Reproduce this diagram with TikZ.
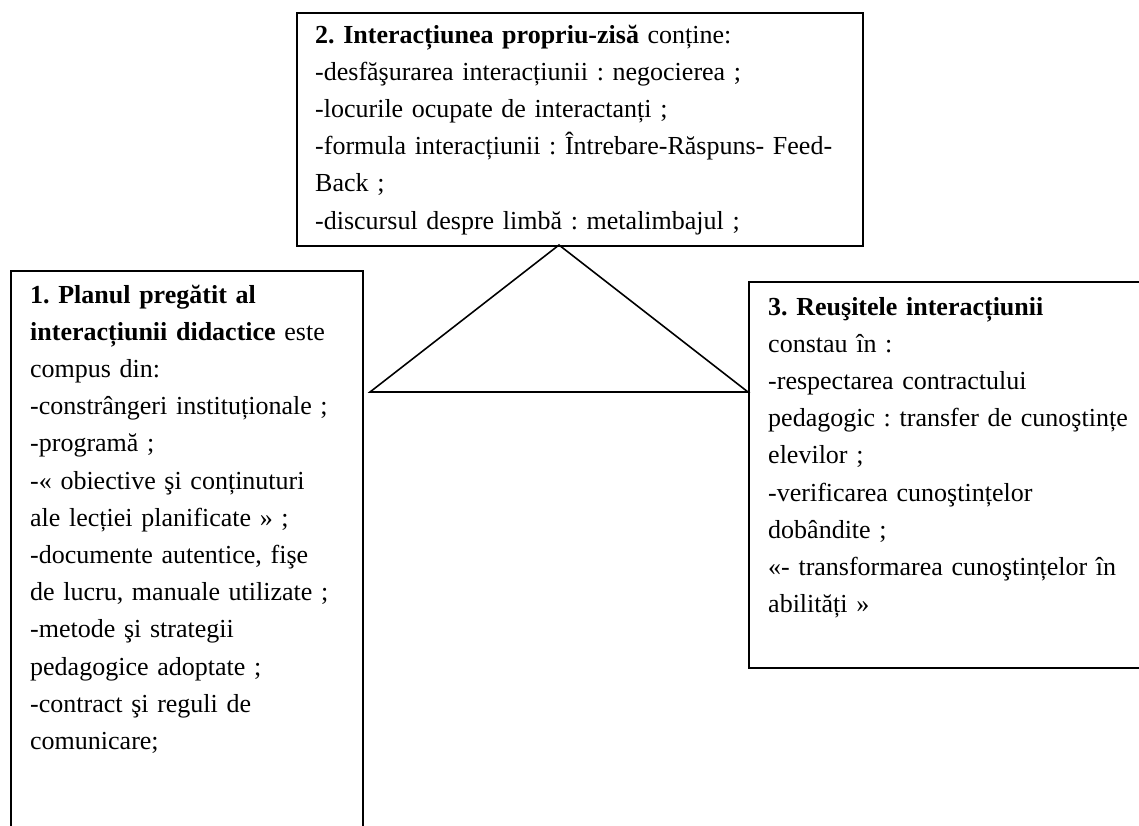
\documentclass[tikz,border=0pt]{standalone}
\usepackage{fontspec}
\setmainfont{Liberation Serif}
\usepackage{tikz}
\usetikzlibrary{positioning}
\frenchspacing
\tikzset{
  pbox/.style={draw=black, line width=2pt, inner sep=0pt, anchor=north west},
  ptext/.style={font=\fontsize{26}{37.2}\selectfont, align=left, anchor=base west,
    inner sep=0pt, text width=#1},
  ptext/.default=340pt,
  tri/.style={draw=black, line width=1.6pt, line join=miter},
}

\begin{document}
\begin{tikzpicture}[x=1pt, y=-1pt]
      \useasboundingbox (0,0) rectangle (1139,825);
      % boxes
      \node[pbox, minimum width=566pt, minimum height=233pt] (inter) at (296,12) {};
      \node[pbox, minimum width=352pt, minimum height=600pt] (plan) at (10,270) {};
      \node[pbox, minimum width=420pt, minimum height=386pt] (reusite) at (748,281) {};
      % texts
      \node[ptext=560pt] (intertxt) at (315,43) {\textbf{2. Interacțiunea propriu-zisă} conține:\\
        -desfăşurarea interacțiunii : negocierea ;\\
        -locurile ocupate de interactanți ;\\
        -formula interacțiunii : Întrebare-Răspuns- Feed-\\
        Back ;\\
        -discursul despre limbă : metalimbajul ;};
      \node[ptext] (plantxt) at (30,303) {\textbf{1. Planul pregătit al}\\
        \textbf{interacțiunii didactice} este\\
        compus din:\\
        -constrângeri instituționale ;\\
        -programă ;\\
        -« obiective şi conținuturi\\
        ale lecției planificate » ;\\
        -documente autentice, fişe\\
        de lucru, manuale utilizate ;\\
        -metode şi strategii\\
        pedagogice adoptate ;\\
        -contract şi reguli de\\
        comunicare;};
      \node[ptext=390pt] (reusitetxt) at (768,315) {\textbf{3. Reuşitele interacțiunii}\\
        constau în :\\
        -respectarea contractului\\
        pedagogic : transfer de cunoştințe\\
        elevilor ;\\
        -verificarea cunoştințelor\\
        dobândite ;\\
        «- transformarea cunoştințelor în\\
        abilități »};
      % triangle
      \coordinate (apex) at (559,245);
      \coordinate (baseL) at (370,392);
      \coordinate (baseR) at (reusite.north west |- baseL);
      \draw[tri] (apex) -- (baseL) -- (baseR) -- cycle;
    \end{tikzpicture}
\end{document}
